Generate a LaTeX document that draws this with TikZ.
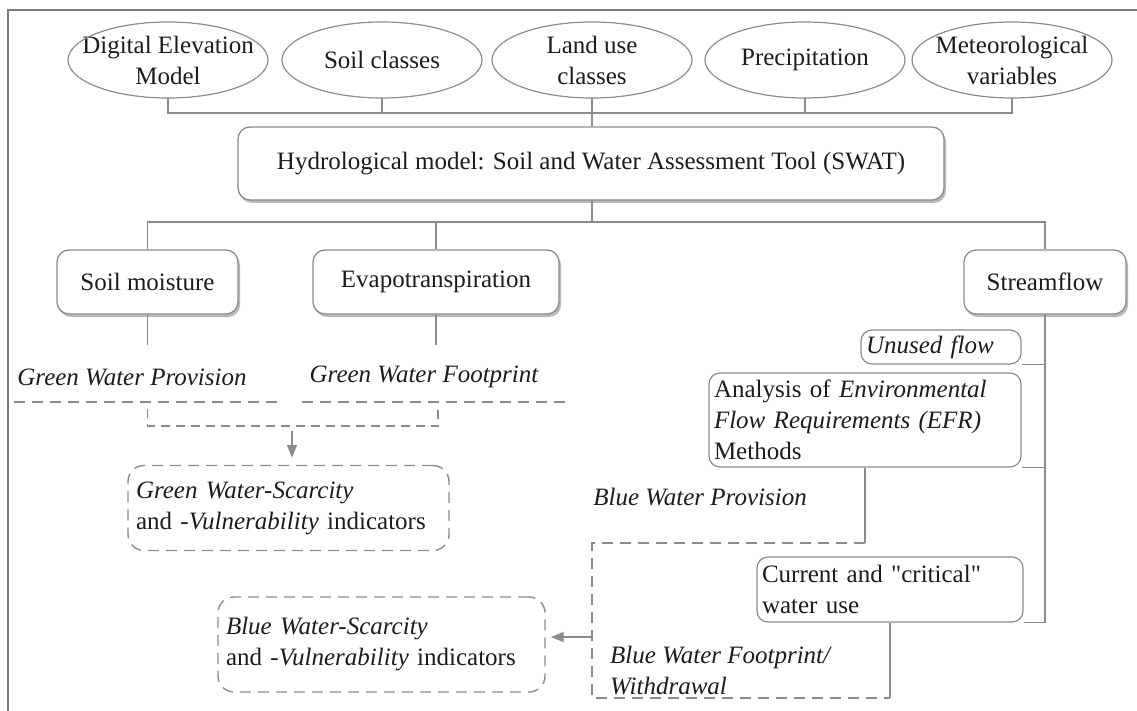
\documentclass[tikz,border=0pt]{standalone}
\usepackage{fontspec}
\setmainfont{Liberation Serif}
\usetikzlibrary{shapes.geometric,arrows.meta,shadows}
\definecolor{ln}{HTML}{8C8C8C}
\definecolor{tx}{HTML}{1C1C1C}
\definecolor{fr}{HTML}{7A7A7A}
\begin{document}
\begin{tikzpicture}[x=1pt,y=-1pt,
  font=\fontsize{25}{31}\selectfont, text=tx,
  conn/.style={draw=ln, line width=1.4pt},
  dsh/.style={draw=ln, line width=1.4pt, dash pattern=on 11pt off 7pt},
  lbl/.style={inner sep=0pt, font=\fontsize{25}{31}\selectfont\itshape},
  mainbox/.style={draw=ln, line width=1.3pt, rounded corners=12pt, fill=white, inner sep=0pt,
    drop shadow={shadow xshift=2pt, shadow yshift=-3pt, fill=black!50, opacity=0.55}},
  subbox/.style={draw=ln, line width=1.2pt, rounded corners=11pt, fill=white, inner xsep=5pt, inner ysep=0pt, align=left},
  indbox/.style={dsh, rounded corners=16pt, inner xsep=8pt, inner ysep=0pt, align=left},
  ellnode/.style={inner sep=0pt, minimum width=200pt, minimum height=76pt, align=center},
  arr/.style={draw=ln, line width=1.4pt, -{Triangle[length=13pt,width=10pt]}}
]
\useasboundingbox (0,0) rectangle (1137,711);
% frame
\draw[draw=fr, line width=1.6pt] (1137,10) -- (8,10) -- (8,711);

% input ellipses
\node[ellnode] (dem)  at (168,60)  {Digital Elevation\\Model};
\node[ellnode] (soil) at (382,60)  {Soil classes};
\node[ellnode] (land) at (592,60)  {Land use\\classes};
\node[ellnode] (prec) at (805,60)  {Precipitation};
\node[ellnode] (met)  at (1012,60) {Meteorological\\variables};
\foreach \n in {dem,soil,land,prec,met}
  \draw[draw=ln, line width=1.2pt] (\n.center) ellipse [x radius=100pt, y radius=38pt];

% main boxes
\node[mainbox, minimum width=706pt, minimum height=73pt] (swat) at (591,163.5)
  {Hydrological model: Soil and Water Assessment Tool (SWAT)};
\node[mainbox, minimum width=181pt, minimum height=64pt] (sm) at (147.5,282) {Soil moisture};
\node[mainbox, minimum width=246pt, minimum height=64pt] (ev) at (436,282) {Evapotranspiration};
\node[mainbox, minimum width=162pt, minimum height=64pt] (sf) at (1045,282) {Streamflow};

% top connectors
\coordinate (j1) at (592,113);
\draw[conn] (dem.south) -- (dem.south |- j1) -- (met.south |- j1) -- (met.south);
\draw[conn] (soil.south) -- (soil.south |- j1);
\draw[conn] (prec.south) -- (prec.south |- j1);
\draw[conn] (land.south) -- (land.south |- swat.north);

\coordinate (j2) at (592,222);
\draw[conn] (swat.south -| j2) -- (j2);
\draw[conn] (sm.north) -- (sm.north |- j2) -- (sf.north |- j2) -- (sf.north);
\draw[conn] (ev.north) -- (ev.north |- j2);

% green branch
\node[lbl] (gwp) at (132,377) {Green Water Provision};
\node[lbl] (gwf) at (424,377) {Green Water Footprint};
\draw[conn] (sm.south) -- (sm.south |- 0,345);
\draw[conn] (ev.south) -- (ev.south |- 0,345);

\coordinate (u1a) at (14,402);  \coordinate (u1b) at (283,402);
\coordinate (u2a) at (302,402); \coordinate (u2b) at (569,402);
\draw[dsh] (u1a) -- (u1b);
\draw[dsh] (u2a) -- (u2b);
\coordinate (b1) at (147.5,409); \coordinate (b4) at (438,409);
\draw[dash pattern=on 9pt off 6pt, draw=ln, line width=1.4pt] (b1) -- (b1 |- 0,426) -- (b4 |- 0,426) -- (b4);

\node[indbox, text width=305pt, minimum height=85pt] (gi) at (288.5,508)
  {\textit{Green Water-Scarcity}\\and -\textit{Vulnerability} indicators};
\coordinate (a1) at (292,431);
\draw[arr, shorten >=7pt] (a1) -- (a1 |- gi.north);

% blue branch
\node[subbox, text width=150pt, minimum height=34pt] (uf) at (941,347) {\textit{Unused flow}};
\node[subbox, text width=302pt, minimum height=94pt] (efr) at (865,420)
  {Analysis of \textit{Environmental}\\\textit{Flow Requirements (EFR)}\\Methods};
\node[subbox, text width=256pt, minimum height=65pt] (cw) at (890,589.5)
  {Current and \textquotedbl critical\textquotedbl\\water use};

\draw[conn] (sf.south) -- (sf.south |- cw.south) -- (cw.south east);
\draw[conn] (uf.south east) -- (uf.south east -| sf.south);
\draw[conn] (efr.south east) -- (efr.south east -| sf.south);

\node[indbox, text width=311pt, minimum height=95pt] (bi) at (381.5,644.5)
  {\textit{Blue Water-Scarcity}\\and -\textit{Vulnerability} indicators};

\node[lbl] (bwp) at (700,497) {Blue Water Provision};
\node[lbl, align=left, anchor=base west] (bwf) at (610,694) {Blue Water Footprint/\\Withdrawal};

\coordinate (p2) at (592,543);
\coordinate (p3) at (592,698);
\draw[conn] (efr.south) -- (efr.south |- p2);
\draw[dsh] (efr.south |- p2) -- (p2) -- (p3) -- (cw.south |- p3);
\draw[conn] (cw.south |- p3) -- (cw.south);

\coordinate (a2) at (592,637);
\draw[arr, shorten >=5pt] (a2) -- (bi.east |- a2);
\end{tikzpicture}
\end{document}
